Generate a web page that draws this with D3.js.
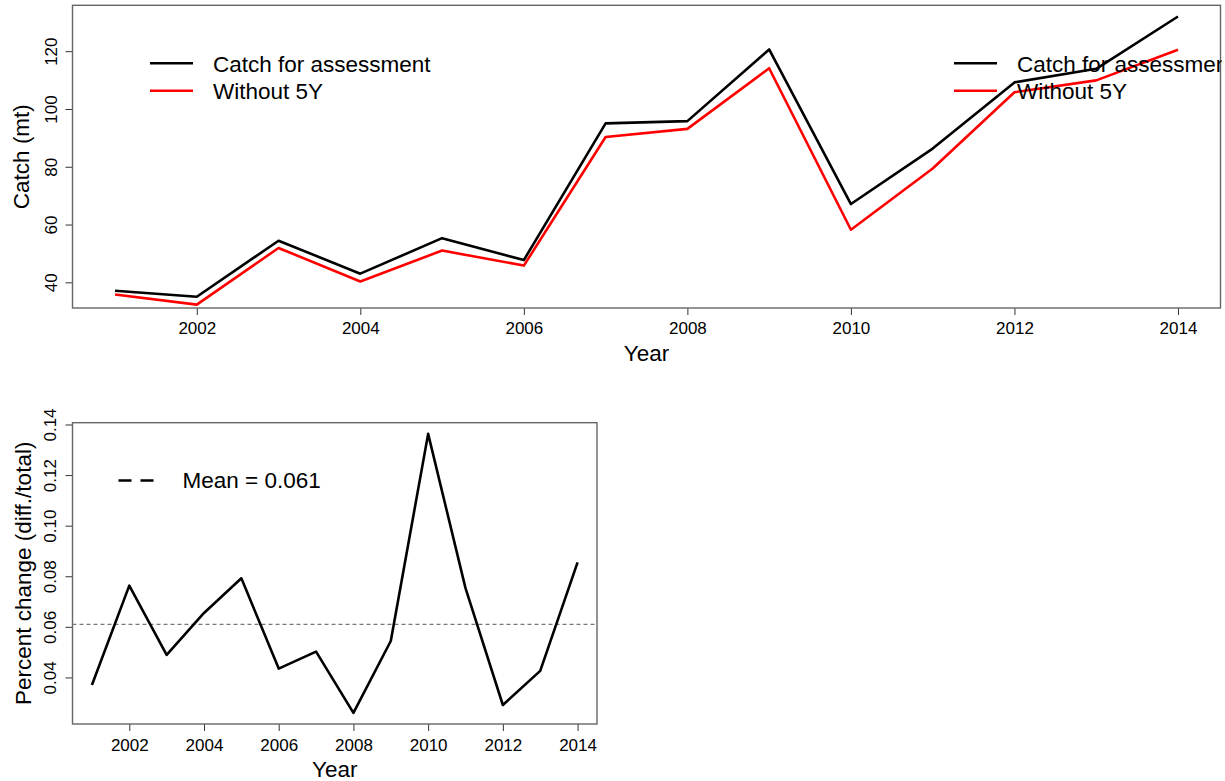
<!DOCTYPE html>
<html lang="en">
<head>
    <meta charset="UTF-8">
    <title>Catch comparison</title>
    <script src="https://cdnjs.cloudflare.com/ajax/libs/d3/7.8.5/d3.min.js"></script>
    <style>
        body { margin: 0; background: #fff; }
        svg text { font-family: "Liberation Sans", Arial, Helvetica, sans-serif; fill: #000; }
    </style>
</head>
<body>
<div id="chart"></div>
<script>
    // Data
    const years = [2001, 2002, 2003, 2004, 2005, 2006, 2007, 2008, 2009, 2010, 2011, 2012, 2013, 2014];
    const catchAssessment = [37.1, 35.0, 54.4, 43.0, 55.3, 47.7, 95.0, 95.8, 120.6, 67.1, 86.3, 109.2, 113.9, 132.0];
    const catchWithout5Y = [35.8, 32.3, 51.9, 40.3, 51.0, 45.8, 90.3, 93.1, 114.1, 58.2, 79.4, 105.8, 109.9, 120.5];
    const percentChange = [0.037, 0.0763, 0.0489, 0.0655, 0.0792, 0.0435, 0.0502, 0.026, 0.0544, 0.1363, 0.0753, 0.0291, 0.0426, 0.0855];
    const meanChange = 0.061;
    const yearTicks = [2002, 2004, 2006, 2008, 2010, 2012, 2014];
    const catchTicks = [40, 60, 80, 100, 120];
    const pctTicks = [0.04, 0.06, 0.08, 0.10, 0.12, 0.14];
    const legendTop = ["Catch for assessment", "Without 5Y"];
    const legendColors = ["#000", "#ff0000"];

    const W = 1225, H = 781;
    const svg = d3.select("#chart").append("svg")
        .attr("width", W).attr("height", H);

    svg.append("defs").append("clipPath").attr("id", "fig")
        .append("rect").attr("x", 0).attr("y", 0).attr("width", 1222).attr("height", H);

    // R style: extend the range by 4% on each side
    function pad(ext) {
        const d = (ext[1] - ext[0]) * 0.04;
        return [ext[0] - d, ext[1] + d];
    }

    function panel(cfg) {
        const x = d3.scaleLinear().domain(pad(d3.extent(years))).range([cfg.left, cfg.right]);
        const y = d3.scaleLinear().domain(pad(d3.extent(cfg.yData))).range([cfg.bottom, cfg.top]);

        const xAxis = svg.append("g")
            .attr("transform", "translate(0," + cfg.bottom + ")")
            .call(d3.axisBottom(x).tickValues(yearTicks).tickFormat(d3.format("d")).tickSize(7).tickSizeOuter(0));
        xAxis.select(".domain").remove();
        xAxis.selectAll("line").attr("stroke", "#333");
        xAxis.selectAll("text").attr("font-size", "17px").attr("dy", null)
            .attr("y", cfg.xTickBase - cfg.bottom);

        const yAxis = svg.append("g")
            .attr("transform", "translate(" + cfg.left + ",0)")
            .call(d3.axisLeft(y).tickValues(cfg.yTicks).tickFormat(cfg.yFmt).tickSize(7).tickSizeOuter(0));
        yAxis.select(".domain").remove();
        yAxis.selectAll("line").attr("stroke", "#333");
        yAxis.selectAll(".tick text")
            .attr("x", null).attr("dy", null)
            .attr("font-size", "17px")
            .attr("text-anchor", "middle")
            .attr("transform", "translate(" + (cfg.yTickBase - cfg.left) + ",0) rotate(-90)");

        // box
        svg.append("rect")
            .attr("x", cfg.left).attr("y", cfg.top)
            .attr("width", cfg.right - cfg.left).attr("height", cfg.bottom - cfg.top)
            .attr("fill", "none").attr("stroke", "#666").attr("stroke-width", 1.4);

        svg.append("text")
            .attr("x", (cfg.left + cfg.right) / 2).attr("y", cfg.xTitleBase)
            .attr("text-anchor", "middle").attr("font-size", "22.5px")
            .text("Year");

        svg.append("text")
            .attr("transform", "translate(" + cfg.yTitleBase + "," + (cfg.top + cfg.bottom) / 2 + ") rotate(-90)")
            .attr("text-anchor", "middle").attr("font-size", "22.5px")
            .text(cfg.yTitle);

        return { x, y };
    }

    // ---- top panel ----
    const catchPanel = panel({
        left: 72.5, right: 1220.5, top: 5.3, bottom: 308,
        yData: catchAssessment, yTicks: catchTicks, yFmt: d3.format("d"),
        xTickBase: 333.5, yTickBase: 57, xTitleBase: 361, yTitleBase: 29,
        yTitle: "Catch (mt)"
    });

    const lineTop = d3.line().x((d, i) => catchPanel.x(years[i])).y(d => catchPanel.y(d));
    svg.append("path").datum(catchAssessment)
        .attr("d", lineTop).attr("fill", "none")
        .attr("stroke", legendColors[0]).attr("stroke-width", 2.6).attr("stroke-linejoin", "round");
    svg.append("path").datum(catchWithout5Y)
        .attr("d", lineTop).attr("fill", "none")
        .attr("stroke", legendColors[1]).attr("stroke-width", 2.6).attr("stroke-linejoin", "round");

    // legend drawn twice (left and right), right one clipped at the figure edge
    const legendG = svg.append("g").attr("clip-path", "url(#fig)");
    [150, 954].forEach(lx => {
        legendTop.forEach((label, i) => {
            const ly = 63.3 + i * 27.5;
            legendG.append("line")
                .attr("x1", lx).attr("x2", lx + 43).attr("y1", ly).attr("y2", ly)
                .attr("stroke", legendColors[i]).attr("stroke-width", 2.6);
            legendG.append("text")
                .attr("x", lx + 63).attr("y", ly + 8.2)
                .attr("font-size", "22.5px")
                .text(label);
        });
    });

    // ---- bottom panel ----
    const pctPanel = panel({
        left: 72.5, right: 597, top: 422.7, bottom: 724,
        yData: percentChange, yTicks: pctTicks, yFmt: d3.format(".2f"),
        xTickBase: 750.7, yTickBase: 56, xTitleBase: 777, yTitleBase: 31,
        yTitle: "Percent change (diff./total)"
    });

    svg.append("line")
        .attr("x1", 72.5).attr("x2", 597)
        .attr("y1", pctPanel.y(meanChange)).attr("y2", pctPanel.y(meanChange))
        .attr("stroke", "#777").attr("stroke-width", 1.3).attr("stroke-dasharray", "4,3");

    const lineBot = d3.line().x((d, i) => pctPanel.x(years[i])).y(d => pctPanel.y(d));
    svg.append("path").datum(percentChange)
        .attr("d", lineBot).attr("fill", "none")
        .attr("stroke", "#000").attr("stroke-width", 2.6).attr("stroke-linejoin", "round");

    svg.append("line")
        .attr("x1", 118.5).attr("x2", 153.5).attr("y1", 480.5).attr("y2", 480.5)
        .attr("stroke", "#000").attr("stroke-width", 2.6).attr("stroke-dasharray", "13,9");
    svg.append("text")
        .attr("x", 182.5).attr("y", 487.5).attr("font-size", "22.5px")
        .text("Mean = " + meanChange.toFixed(3));
</script>
</body>
</html>
